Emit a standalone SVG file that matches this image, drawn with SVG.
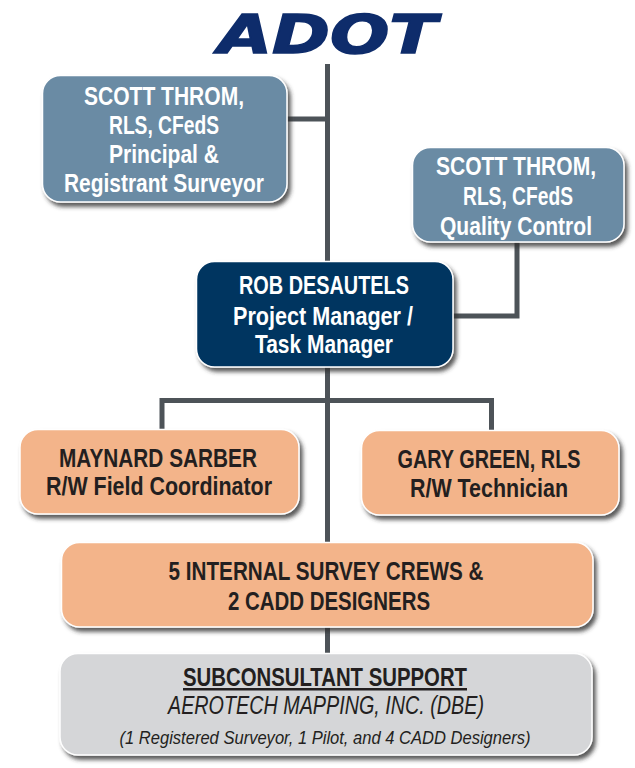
<svg xmlns="http://www.w3.org/2000/svg" width="635" height="768" viewBox="0 0 635 768">
<style>
text{font-family:"Liberation Sans",Arial,sans-serif;text-anchor:middle}
.b{font-size:25px;font-weight:700;fill:#fff}
.d{font-size:25px;font-weight:700;fill:#231f20}
.i{font-weight:400;font-style:italic;fill:#231f20}
.box{stroke:#fff;stroke-width:1.5;filter:url(#sh)}
.wire{fill:none;stroke:#4d5358;stroke-width:5}
.blue{fill:#6b8ba4}.navy{fill:#003561}.orange{fill:#f3b48a}.grey{fill:#d5d6d8}
</style>
<defs>
<filter id="sh" x="-5%" y="-10%" width="112%" height="125%"><feDropShadow dx="3" dy="4" stdDeviation="2" flood-color="#333" flood-opacity=".8"/></filter>
</defs>
<g id="connectors">
<path class="wire" d="M327.500 64V654M287 119H327.500"/>
<path class="wire" d="M517 242V316H453"/>
<path class="wire" d="M162 430V400.500H491.500V431"/>
</g>
<g id="logo"><text x="327.500" y="52.500" style="font-family:'DejaVu Sans',sans-serif;font-weight:700;font-style:oblique;font-size:54px;fill:#0e2c6b;stroke:#0e2c6b;stroke-width:1.500" textLength="219" lengthAdjust="spacingAndGlyphs">ADOT</text></g>
<g id="principal-surveyor"><rect class="box blue" x="42.500" y="75.500" width="244.500" height="126.500" rx="18"/>
<text class="b" x="164" y="105" textLength="160" lengthAdjust="spacingAndGlyphs">SCOTT THROM,</text>
<text class="b" x="164" y="134" textLength="110" lengthAdjust="spacingAndGlyphs">RLS, CFedS</text>
<text class="b" x="164" y="163" textLength="110" lengthAdjust="spacingAndGlyphs">Principal &amp;</text>
<text class="b" x="164" y="192" textLength="200" lengthAdjust="spacingAndGlyphs">Registrant Surveyor</text></g>
<g id="quality-control"><rect class="box blue" x="412.500" y="147.500" width="211.500" height="94.500" rx="18"/>
<text class="b" x="516" y="175" textLength="160" lengthAdjust="spacingAndGlyphs">SCOTT THROM,</text>
<text class="b" x="518" y="205" textLength="110" lengthAdjust="spacingAndGlyphs">RLS, CFedS</text>
<text class="b" x="516" y="235" textLength="152" lengthAdjust="spacingAndGlyphs">Quality Control</text></g>
<g id="project-manager"><rect class="box navy" x="196.500" y="261.500" width="256.500" height="105.500" rx="18"/>
<text class="b" x="324" y="294" textLength="170" lengthAdjust="spacingAndGlyphs">ROB DESAUTELS</text>
<text class="b" x="323" y="325" textLength="180" lengthAdjust="spacingAndGlyphs">Project Manager /</text>
<text class="b" x="324" y="353" textLength="138" lengthAdjust="spacingAndGlyphs">Task Manager</text></g>
<g id="field-coordinator"><rect class="box orange" x="20" y="429.500" width="279" height="84.500" rx="18"/>
<text class="d" x="158" y="467" textLength="198" lengthAdjust="spacingAndGlyphs">MAYNARD SARBER</text>
<text class="d" x="159" y="495" textLength="226" lengthAdjust="spacingAndGlyphs">R/W Field Coordinator</text></g>
<g id="technician"><rect class="box orange" x="361.500" y="430.500" width="257.500" height="84.500" rx="18"/>
<text class="d" x="489" y="468" textLength="183" lengthAdjust="spacingAndGlyphs">GARY GREEN, RLS</text>
<text class="d" x="489" y="497" textLength="158" lengthAdjust="spacingAndGlyphs">R/W Technician</text></g>
<g id="survey-crews"><rect class="box orange" x="61.500" y="542.500" width="531.500" height="84.500" rx="18"/>
<text class="d" x="326" y="580" textLength="315" lengthAdjust="spacingAndGlyphs">5 INTERNAL SURVEY CREWS &amp;</text>
<text class="d" x="329" y="610" textLength="202" lengthAdjust="spacingAndGlyphs">2 CADD DESIGNERS</text></g>
<g id="subconsultant"><rect class="box grey" x="60" y="653.500" width="532" height="101.500" rx="18"/>
<text class="d" x="325" y="686" textLength="284" lengthAdjust="spacingAndGlyphs" text-decoration="underline">SUBCONSULTANT SUPPORT</text>
<text class="i" x="326" y="714" font-size="25" textLength="316" lengthAdjust="spacingAndGlyphs">AEROTECH MAPPING, INC. (DBE)</text>
<text class="i" x="325" y="744" font-size="19" textLength="411" lengthAdjust="spacingAndGlyphs">(1 Registered Surveyor, 1 Pilot, and 4 CADD Designers)</text></g>
</svg>
